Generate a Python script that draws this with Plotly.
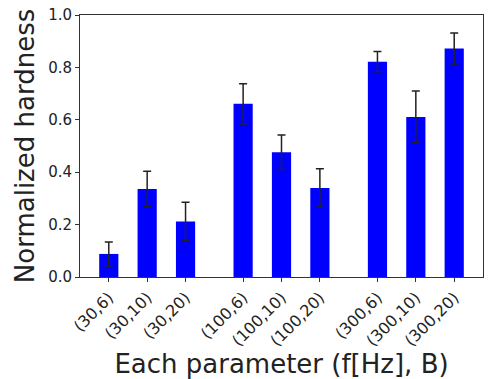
import plotly.graph_objects as go

frequencies = [30, 100, 300]
b_values = [6, 10, 20]
labels = ["(30,6)", "(30,10)", "(30,20)",
          "(100,6)", "(100,10)", "(100,20)",
          "(300,6)", "(300,10)", "(300,20)"]
hardness = [0.088, 0.336, 0.212, 0.661, 0.476, 0.340, 0.822, 0.611, 0.872]
errors = [0.046, 0.068, 0.073, 0.077, 0.066, 0.073, 0.039, 0.099, 0.059]

# x positions: groups separated by an extra half slot
xpos = []
for gi, f in enumerate(frequencies):
    for bi, b in enumerate(b_values):
        xpos.append(gi * 3.5 + bi)

font = "DejaVu Sans"
fig = go.Figure()
fig.add_trace(go.Bar(
    x=xpos, y=hardness, width=0.5,
    marker=dict(color="#0000ff", line=dict(width=0)),
    error_y=dict(type="data", array=errors, visible=True,
                 color="#222222", thickness=1.5, width=4),
))
fig.update_layout(
    width=488, height=379,
    margin=dict(l=80, r=5, t=15, b=102),
    paper_bgcolor="white", plot_bgcolor="white",
    showlegend=False,
    font=dict(family=font, color="#222222"),
)
fig.update_xaxes(
    range=[-0.75, 9.75], tickvals=xpos, ticktext=labels, tickangle=-45,
    showline=True, linecolor="#333333", linewidth=1, mirror=True,
    ticks="outside", ticklen=4, tickcolor="#333333", showgrid=False,
    zeroline=False, tickfont=dict(size=16, family=font),
    title=dict(text="Each parameter (f[Hz], B)", font=dict(size=26, family=font), standoff=3),
)
fig.update_yaxes(
    range=[0, 1], tickvals=[0, 0.2, 0.4, 0.6, 0.8, 1.0],
    ticktext=["0.0", "0.2", "0.4", "0.6", "0.8", "1.0"],
    showline=True, linecolor="#333333", linewidth=1, mirror=True,
    ticks="outside", ticklen=4, tickcolor="#333333", showgrid=False,
    zeroline=False, tickfont=dict(size=15, family=font),
    title=dict(text="Normalized hardness", font=dict(size=26, family=font), standoff=6),
)
fig.write_html("out.html")
